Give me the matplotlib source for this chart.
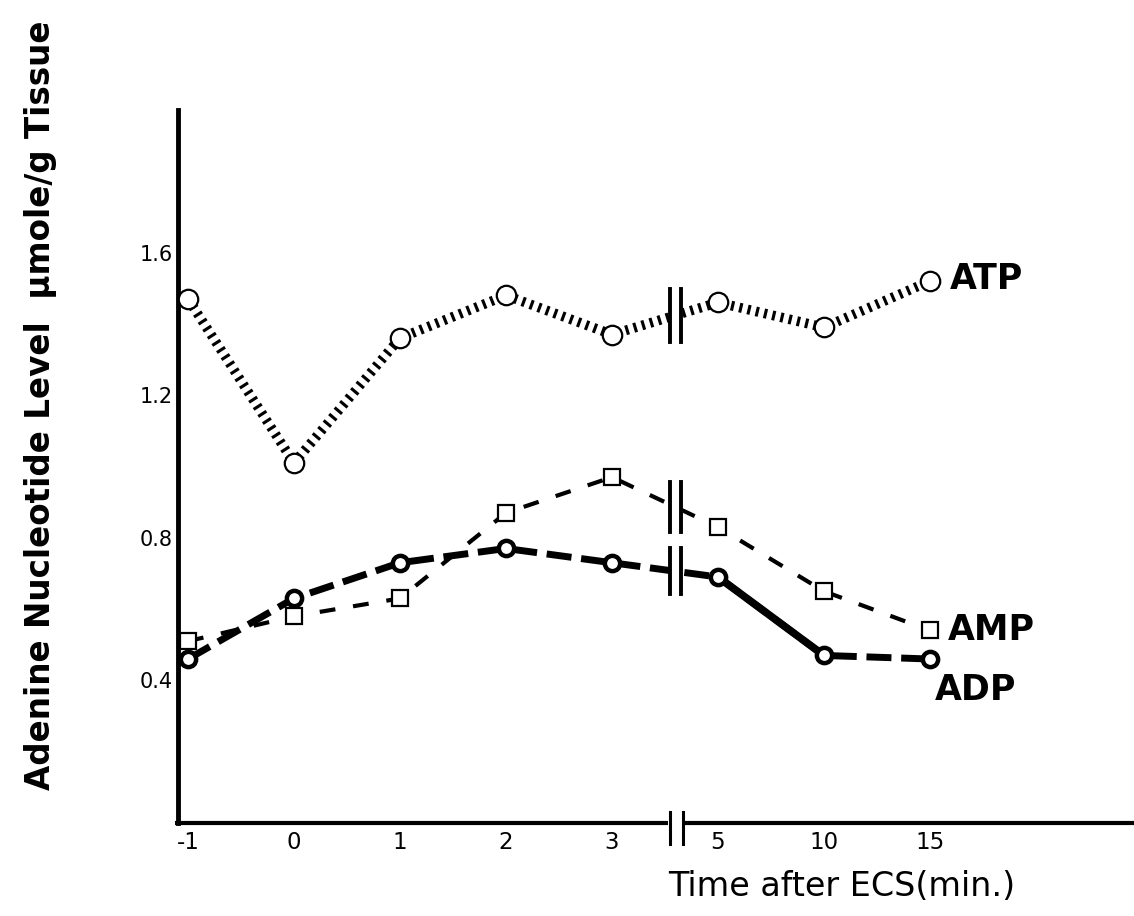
import matplotlib
matplotlib.use("Agg")
import matplotlib.pyplot as plt
import numpy as np
from matplotlib.transforms import blended_transform_factory

# ---- data ----
times = ["-1", "0", "1", "2", "3", "5", "10", "15"]
atp = [1.47, 1.01, 1.36, 1.48, 1.37, 1.46, 1.39, 1.52]
amp = [0.51, 0.58, 0.63, 0.87, 0.97, 0.83, 0.65, 0.54]
adp = [0.46, 0.63, 0.73, 0.77, 0.73, 0.69, 0.47, 0.46]
yticks = [0.4, 0.8, 1.2, 1.6]
ytick_labels = ["0.4", "0.8", "1.2", "1.6"]
series_names = ["ATP", "AMP", "ADP"]

fig = plt.figure(figsize=(11.34, 9.16), dpi=100)
ax = fig.add_axes([0.157, 0.1015, 0.843, 0.7785])
x = np.arange(len(times))
ax.set_xlim(-0.094, 8.925)
ax.set_ylim(0, 2.0)

# spines
for s in ["top", "right", "bottom"]:
    ax.spines[s].set_visible(False)
ax.spines["left"].set_linewidth(3.5)

# bottom axis with a break
bt = blended_transform_factory(ax.transData, ax.transAxes)
xl = ax.get_xlim()
ax.plot([xl[0] - 0.03, 4.53], [0, 0], color="black", lw=3, transform=bt,
        clip_on=False, solid_capstyle="butt")
ax.plot([4.69, xl[1]], [0, 0], color="black", lw=3, transform=bt,
        clip_on=False, solid_capstyle="butt")
for bxx in (4.55, 4.67):
    ax.plot([bxx, bxx], [-0.03, 0.016], color="black", lw=2.2, transform=bt,
            clip_on=False)

# ticks
ax.set_xticks(x)
ax.set_xticklabels(times, fontsize=16.5)
ax.set_yticks(yticks)
ax.set_yticklabels(ytick_labels, fontsize=15)
ax.tick_params(axis="x", length=0, pad=6)
ax.tick_params(axis="y", length=0, pad=4)

# series
ax.plot(x, atp, color="black", lw=7, linestyle=(0, (0.32, 0.55)),
        dash_capstyle="butt", zorder=2)
ax.plot(x, atp, linestyle="none", marker="o", ms=14, mfc="white",
        mec="black", mew=1.6, zorder=5)

ax.plot(x, amp, color="black", lw=3, linestyle=(0, (3.8, 4.3)),
        dash_capstyle="butt", zorder=2)
ax.plot(x, amp, linestyle="none", marker="s", ms=11, mfc="white",
        mec="black", mew=1.6, zorder=5)

ax.plot(x, adp, color="black", lw=5, linestyle=(0, (3.6, 1.4)),
        dash_capstyle="butt", zorder=2)
ax.plot(x[5:7], adp[5:7], color="black", lw=5.5, solid_capstyle="butt", zorder=2)
ax.plot(x, adp, linestyle="none", marker="o", ms=11, mfc="white",
        mec="black", mew=3.2, zorder=5)

# break marks on the lines
bx = 4.6
for vals, h in ((atp, 0.075), (amp, 0.07), (adp, 0.065)):
    yv = np.interp(bx, x, vals)
    ax.plot([bx - 0.06, bx + 0.06], [yv, yv], color="white", lw=12,
            solid_capstyle="butt", zorder=3)
    for dx in (-0.05, 0.05):
        ax.plot([bx + dx, bx + dx], [yv - h, yv + h], color="black", lw=2.8,
                zorder=4)

# series labels
ax.text(7.19, 1.527, series_names[0], fontsize=25, fontweight="bold",
        ha="left", va="center")
ax.text(7.17, 0.541, series_names[1], fontsize=25, fontweight="bold",
        ha="left", va="center")
ax.text(7.05, 0.372, series_names[2], fontsize=25, fontweight="bold",
        ha="left", va="center")

# axis titles
fig.text(0.036, 0.558, "Adenine Nucleotide Level  \u00b5mole/g Tissue",
         rotation=90, fontsize=23.5, fontweight="bold",
         ha="center", va="center")
fig.text(0.742, 0.032, "Time after ECS(min.)", fontsize=24,
         ha="center", va="center")

fig.savefig("out.png", dpi=100)
